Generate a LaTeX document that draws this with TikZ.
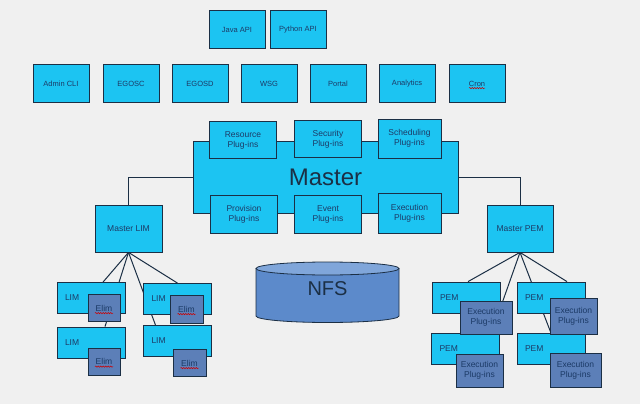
\documentclass[tikz,border=0pt]{standalone}
\usepackage{fontspec}
\setmainfont{Liberation Sans}
\usepackage{xcolor}
\usetikzlibrary{decorations.pathmorphing}
\definecolor{bgc}{HTML}{F0F0F0}
\definecolor{boxc}{HTML}{1CC4F2}
\definecolor{subc}{HTML}{5C7FB8}
\definecolor{linec}{HTML}{1B2F45}
\definecolor{txtc}{HTML}{1C3A66}
\definecolor{nfsc}{HTML}{5C8ACB}
\definecolor{nfstop}{HTML}{80A6DA}
\pgfdeclarelayer{bg}
\pgfsetlayers{bg,main}
\tikzset{
    RA1/.style ={rectangle, draw=linec, line width=0.8pt, fill=boxc, text=txtc, font=\fontsize{7.5}{9}\selectfont, minimum width=56pt, minimum height=38pt},
    RA2/.style ={rectangle, draw=linec, line width=0.8pt, fill=boxc, text=txtc, font=\fontsize{8.5}{10}\selectfont, align=center, minimum width=67pt, minimum height=37pt},
    RA3/.style ={rectangle, draw=linec, line width=0.8pt, fill=boxc, text=txtc, font=\fontsize{8.5}{10}\selectfont, align=left, text width=52pt, inner xsep=8pt, minimum height=31pt},
    RA4/.style ={rectangle, draw=linec, line width=0.8pt, fill=subc, text=txtc, font=\fontsize{8.5}{10}\selectfont, inner sep=1pt, minimum width=32pt, minimum height=27pt},
    RA5/.style ={rectangle, draw=linec, line width=0.8pt, fill=subc, text=txtc, font=\fontsize{8.5}{10}\selectfont, align=center, inner sep=1pt, minimum width=50pt, minimum height=34pt},
    LN/.style ={draw=linec, line width=1pt},
    SQ/.style ={draw=red!80!black, line width=0.5pt, decorate, decoration={snake, amplitude=0.7pt, segment length=2.5pt}}
}

\begin{document}
\begin{tikzpicture}[x=1pt,y=-1pt]
    \begin{pgfonlayer}{bg}
        \fill[bgc] (0,0) rectangle (640,404);
    \end{pgfonlayer}
    \useasboundingbox (0,0) rectangle (640,404);
    % api
    \node[RA1] (java) at (237,29.5) {Java API};
    \node[RA1] (python) at (298,29.5) {Python API};
    % clients
    \node[RA1] (admin) at (61,83.5) {Admin CLI};
    \node[RA1] (egosc) at (131,83.5) {EGOSC};
    \node[RA1] (egosd) at (200,83.5) {EGOSD};
    \node[RA1] (wsg) at (269,83.5) {WSG};
    \node[RA1] (portal) at (338,83.5) {Portal};
    \node[RA1] (analytics) at (407,83.5) {Analytics};
    \node[RA1] (cron) at (477,83.5) {Cron};
    \draw[SQ] ([xshift=-8pt,yshift=-2pt]cron.base) -- ([xshift=8pt,yshift=-2pt]cron.base);
    % master
    \node[RA1, minimum width=265pt, minimum height=72pt, font=\fontsize{24}{28}\selectfont, text=linec] (master) at (325.5,177) {Master};
    \node[RA2] (resource) at (243,140) {Resource\\Plug-ins};
    \node[RA2] (security) at (328,139) {Security\\Plug-ins};
    \node[RA2, minimum width=63pt, minimum height=39pt] (scheduling) at (409.5,138.5) {Scheduling\\Plug-ins};
    \node[RA2, minimum height=38pt] (provision) at (244,214) {Provision\\Plug-ins};
    \node[RA2, minimum height=38pt] (event) at (328,214) {Event\\Plug-ins};
    \node[RA2, minimum width=63pt, minimum height=40pt] (execution) at (409.5,213) {Execution\\Plug-ins};
    % lim side
    \node[RA2, minimum height=47pt] (mlim) at (128.5,228.5) {Master LIM};
    \node[RA3] (lim1) at (91,298) {LIM};
    \node[RA3] (lim2) at (91,342.5) {LIM};
    \node[RA3] (lim3) at (177.5,299) {LIM};
    \node[RA3] (lim4) at (177.5,341) {LIM};
    \node[RA4] (e1) at (104,308) {Elim};
    \node[RA4] (e2) at (104,361.5) {Elim};
    \node[RA4, minimum width=33pt, minimum height=28pt] (e3) at (186.5,309) {Elim};
    \node[RA4, minimum width=33pt] (e4) at (189.5,363) {Elim};
    \foreach \n in {e1,e2,e3,e4}
        \draw[SQ] ([xshift=-9pt,yshift=-2pt]\n.base) -- ([xshift=9pt,yshift=-2pt]\n.base);
    % pem side
    \node[RA2, minimum width=66pt, minimum height=47pt] (mpem) at (520,228.5) {Master PEM};
    \node[RA3] (pem1) at (466,297.5) {PEM};
    \node[RA3] (pem2) at (465.5,349) {PEM};
    \node[RA3] (pem3) at (551,297.5) {PEM};
    \node[RA3] (pem4) at (551,349) {PEM};
    \node[RA5, minimum width=52pt, minimum height=33pt] (x1) at (486,317.5) {Execution\\Plug-ins};
    \node[RA5, minimum width=47pt, minimum height=33pt] (x2) at (479.5,370.5) {Execution\\Plug-ins};
    \node[RA5, minimum width=47pt, minimum height=36pt] (x3) at (573.5,316) {Execution\\Plug-ins};
    \node[RA5, minimum width=51pt] (x4) at (575.5,370) {Execution\\Plug-ins};
    % nfs
    \fill[nfsc] (256,268.5) -- (256,316) arc[start angle=180, end angle=0, x radius=71.5, y radius=6.5] -- (399,268.5) -- cycle;
    \draw[draw=linec, line width=0.8pt] (256,268.5) -- (256,316) arc[start angle=180, end angle=0, x radius=71.5, y radius=6.5] -- (399,268.5);
    \filldraw[fill=nfstop, draw=linec, line width=0.8pt] (327.5,268.5) ellipse [x radius=71.5, y radius=6.5];
    \node[font=\fontsize{20}{24}\selectfont, text=linec] (nfs) at (327.5,289) {NFS};
    % connectors
    \begin{pgfonlayer}{bg}
        \draw[LN] (master.west) -| (mlim.north);
        \draw[LN] (master.east) -| (mpem.north);
        \draw[LN] (mlim.south) -- ([xshift=12pt]lim1.north);
        \draw[LN] (mlim.south) -- ([xshift=14pt]lim2.north);
        \draw[LN] (mlim.south) -- (lim3.north);
        \draw[LN] (mlim.south) -- ([xshift=-22pt]lim4.north);
        \draw[LN] (mpem.south) -- ([xshift=2pt]pem1.north);
        \draw[LN] (mpem.south) -- ([xshift=26pt]pem2.north);
        \draw[LN] (mpem.south) -- ([xshift=16pt]pem3.north);
        \draw[LN] (mpem.south) -- (pem4.north);
    \end{pgfonlayer}
\end{tikzpicture}
\end{document}
